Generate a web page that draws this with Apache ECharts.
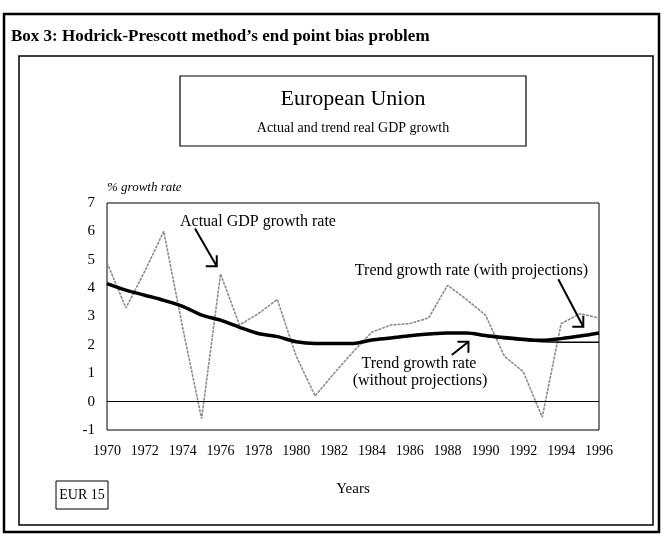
<!DOCTYPE html>
<html>
<head>
<meta charset="utf-8">
<title>Hodrick-Prescott end point bias</title>
<script src="https://cdn.jsdelivr.net/npm/echarts@6.0.0/dist/echarts.min.js"></script>
<style>
  html, body { margin: 0; padding: 0; background: #fff; }
  #chart { width: 666px; height: 536px; }
</style>
</head>
<body>
<div id="chart"></div>
<script>
// data
const years = [1970, 1971, 1972, 1973, 1974, 1975, 1976, 1977, 1978, 1979,
  1980, 1981, 1982, 1983, 1984, 1985, 1986, 1987, 1988, 1989,
  1990, 1991, 1992, 1993, 1994, 1995, 1996]

const actualGrowth = [4.9, 3.3, 4.6, 6.0, 2.6, -0.6, 4.5, 2.7, 3.1, 3.6,
  1.6, 0.2, 1.0, 1.75, 2.45, 2.7, 2.75, 2.95, 4.1, 3.6,
  3.05, 1.6, 1.05, -0.55, 2.75, 3.1, 2.95]

const trendWithProjections = [4.16, 3.93, 3.75, 3.57, 3.36, 3.05, 2.87, 2.62, 2.4, 2.29,
  2.11, 2.05, 2.05, 2.05, 2.17, 2.24, 2.32, 2.38, 2.42, 2.42,
  2.33, 2.26, 2.2, 2.16, 2.22, 2.31, 2.42]

const trendWithoutProjections = [4.16, 3.93, 3.75, 3.57, 3.36, 3.05, 2.87, 2.62, 2.4, 2.29,
  2.11, 2.05, 2.05, 2.05, 2.17, 2.24, 2.32, 2.38, 2.42, 2.42,
  2.3, 2.22, 2.15, 2.11, 2.09, 2.09, 2.09]

const yMin = -1
const yMax = 7
const xStep = 2

const serif = '"Liberation Serif", "Times New Roman", serif'

const toPairs = (vals) => years.map((y, i) => [y, vals[i]])

const chart = echarts.init(document.getElementById('chart'))

// plain text helper for the graphic layer
const label = (text, x, y, size, align) => ({
  type: 'text',
  x: x,
  y: y,
  z: 10,
  style: {
    text: text,
    font: size + 'px ' + serif,
    fill: '#000',
    align: align || 'left',
    verticalAlign: 'middle'
  }
})

const option = {
  animation: false,
  backgroundColor: '#fff',
  grid: {
    left: 107,
    top: 203,
    right: 67,
    bottom: 106,
    show: true,
    borderColor: '#000',
    borderWidth: 1
  },
  xAxis: {
    type: 'value',
    min: years[0],
    max: years[years.length - 1],
    interval: xStep,
    name: 'Years',
    nameLocation: 'middle',
    nameGap: 52,
    nameTextStyle: { fontFamily: serif, fontSize: 15, color: '#000' },
    axisLine: { show: false, onZero: false },
    axisTick: { show: false },
    splitLine: { show: false },
    axisLabel: {
      fontFamily: serif,
      fontSize: 14,
      color: '#000',
      margin: 14,
      formatter: (v) => String(v)
    }
  },
  yAxis: {
    type: 'value',
    min: yMin,
    max: yMax,
    interval: 1,
    name: '% growth rate',
    nameLocation: 'end',
    nameGap: 9,
    nameTextStyle: {
      fontFamily: serif,
      fontStyle: 'italic',
      fontSize: 13,
      color: '#000',
      align: 'left',
      verticalAlign: 'bottom'
    },
    axisLine: { show: false },
    axisTick: { show: false },
    splitLine: { show: false },
    axisLabel: {
      fontFamily: serif,
      fontSize: 15,
      color: '#000',
      margin: 12
    }
  },
  series: [
    {
      name: 'Actual GDP growth rate',
      type: 'line',
      data: toPairs(actualGrowth),
      showSymbol: false,
      lineStyle: { color: '#8c8c8c', width: 1.6, type: [3, 1] },
      z: 2,
      markLine: {
        silent: true,
        symbol: 'none',
        label: { show: false },
        lineStyle: { color: '#000', width: 1.2, type: 'solid' },
        data: [{ yAxis: 0 }]
      }
    },
    {
      name: 'Trend growth rate (without projections)',
      type: 'line',
      data: toPairs(trendWithoutProjections),
      showSymbol: false,
      lineStyle: { color: '#000', width: 1.5 },
      z: 3
    },
    {
      name: 'Trend growth rate (with projections)',
      type: 'line',
      data: toPairs(trendWithProjections),
      showSymbol: false,
      smooth: 0.3,
      lineStyle: { color: '#000', width: 3.5 },
      z: 4
    }
  ],
  graphic: [
    {
      type: 'rect',
      shape: { x: 4, y: 14, width: 655, height: 518 },
      style: { fill: null, stroke: '#000', lineWidth: 2.5 }
    },
    {
      type: 'text',
      x: 11,
      y: 37,
      style: {
        text: 'Box 3: Hodrick-Prescott method\u2019s end point bias problem',
        font: 'bold 17px ' + serif,
        fill: '#000',
        verticalAlign: 'middle'
      }
    },
    {
      type: 'rect',
      shape: { x: 19, y: 56, width: 634, height: 469 },
      style: { fill: null, stroke: '#000', lineWidth: 1.5 }
    },
    {
      type: 'rect',
      shape: { x: 180, y: 76, width: 346, height: 70 },
      style: { fill: '#fff', stroke: '#000', lineWidth: 1.2 }
    },
    label('European Union', 353, 99, 22, 'center'),
    label('Actual and trend real GDP growth', 353, 128, 14, 'center'),
    {
      type: 'rect',
      shape: { x: 56, y: 481, width: 52, height: 28 },
      style: { fill: '#fff', stroke: '#000', lineWidth: 1 }
    },
    label('EUR 15', 82, 495, 14, 'center'),
    label('Actual GDP growth rate', 180, 222, 16),
    label('Trend growth rate (with projections)', 588, 271, 16, 'right'),
    label('Trend growth rate', 419, 364, 16, 'center'),
    label('(without projections)', 420, 381, 16, 'center')
  ]
}

chart.setOption(option)

// pointer arrows with an open corner head, anchored in data space
const arrows = [
  { from: [1974.65, 6.1], to: [1975.8, 4.77] },
  { from: [1993.85, 4.31], to: [1995.17, 2.64] },
  { from: [1988.22, 1.64], to: [1989.1, 2.11] }
]

const head = 11
const arrowGraphics = []
arrows.forEach((a) => {
  const p0 = chart.convertToPixel({ gridIndex: 0 }, a.from)
  const p1 = chart.convertToPixel({ gridIndex: 0 }, a.to)
  const dirY = p1[1] > p0[1] ? 1 : -1
  arrowGraphics.push({
    type: 'line',
    z: 10,
    shape: { x1: p0[0], y1: p0[1], x2: p1[0], y2: p1[1] },
    style: { stroke: '#000', lineWidth: 2 }
  })
  arrowGraphics.push({
    type: 'polyline',
    z: 10,
    shape: { points: [[p1[0] - head, p1[1]], [p1[0], p1[1]], [p1[0], p1[1] - dirY * head]] },
    style: { stroke: '#000', lineWidth: 2, fill: null }
  })
})

chart.setOption({ graphic: option.graphic.concat(arrowGraphics) })
</script>
</body>
</html>
